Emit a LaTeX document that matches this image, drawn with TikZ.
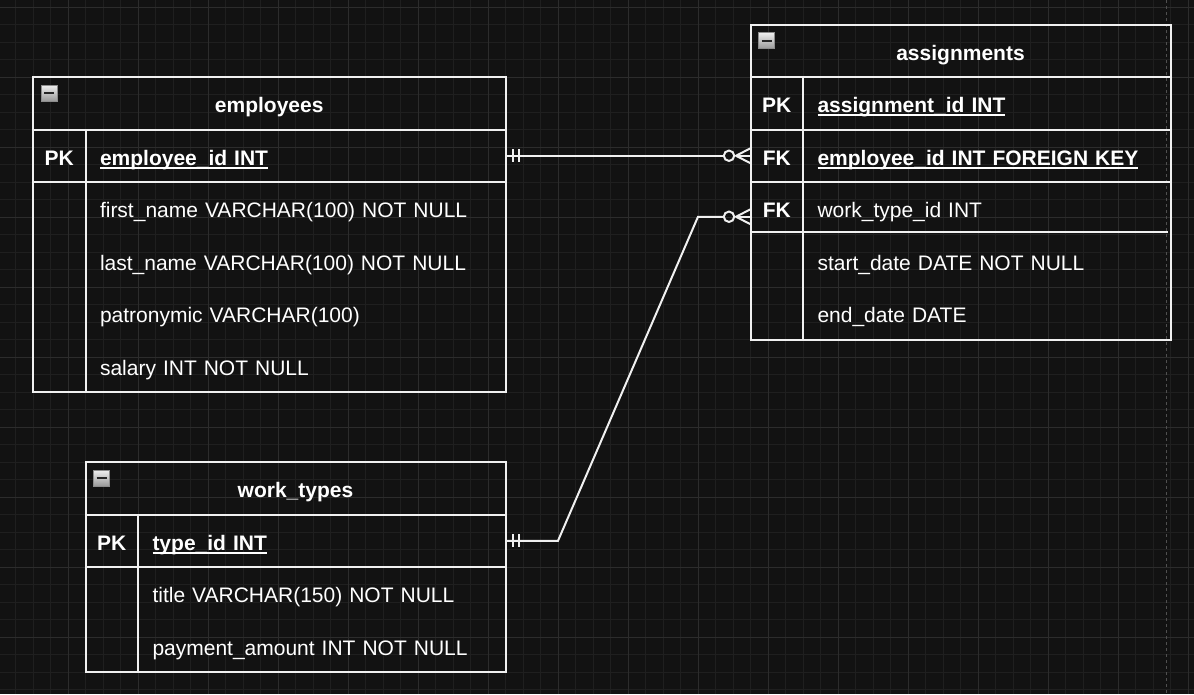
\documentclass[tikz,border=0pt]{standalone}
\usepackage{fontspec}
\setmainfont{Liberation Sans}
\usetikzlibrary{calc}
\definecolor{bgcol}{HTML}{121212}
\definecolor{gridminor}{HTML}{1F1F1F}
\definecolor{gridmajor}{HTML}{2C2C2C}
\definecolor{linecol}{HTML}{F0F0F0}
\definecolor{pagecol}{HTML}{505050}
\def\ukey#1{\setbox0\hbox{\bfseries #1}\rlap{\rule[-3.5pt]{\wd0}{2pt}}\box0}
\def\minusbox(#1){\draw[draw=black!45, top color=black!6, bottom color=black!40] ($(#1)+(8,8)$) rectangle ++(16,16); \draw[line width=2, black!85] ($(#1)+(11,16)$) -- ++(10,0);}
\tikzset{
	erline/.style={draw=linecol, line width=2},
	ertext/.style={text=white, font=\fontsize{21}{25}\selectfont, text height=24, text depth=5.5, outer sep=0, minimum height=52.5},
	tblhead/.style={ertext, erline, font=\fontsize{21}{25}\selectfont\bfseries, inner sep=0},
	keycell/.style={ertext, font=\fontsize{21}{25}\selectfont\bfseries, minimum width=52.5, inner sep=0},
	fieldcell/.style={ertext, anchor=west, align=left, inner xsep=14.5, inner ysep=0, text width=#1},
}
\begin{document}
\begin{tikzpicture}[x=1pt, y=-1pt]
			%%%%% START %%%%%
			
			\useasboundingbox (0, 0) rectangle (1194, 694);
			\fill[bgcol] (0, 0) rectangle (1194, 694);
			
			% grid
			\foreach \k in {0,...,69} \draw[gridminor, line width=1] ({-2+17.5*\k}, 0) -- ({-2+17.5*\k}, 694);
			\foreach \k in {0,...,39} \draw[gridminor, line width=1] (0, {7+17.5*\k}) -- (1194, {7+17.5*\k});
			\foreach \k in {0,...,17} \draw[gridmajor, line width=1] ({-2+70*\k}, 0) -- ({-2+70*\k}, 694);
			\foreach \k in {0,...,9} \draw[gridmajor, line width=1] (0, {7+70*\k}) -- (1194, {7+70*\k});
			\draw[pagecol, line width=1, dash pattern=on 3 off 3] (1166.7, 0) -- (1166.7, 694);
			
			% employees
			\node[tblhead, minimum width=472.5] (emp) at (269.25, 103.25) {employees};
			\node[keycell] (emp-pk-k) at (59.25, 155.75) {PK};
			\node[fieldcell=391] (emp-pk) at (85.5, 155.75) {\ukey{employee\_id INT}};
			\node[fieldcell=391] (emp-r1) at (85.5, 208.25) {first\_name VARCHAR(100) NOT NULL};
			\node[fieldcell=391] (emp-r2) at (85.5, 260.75) {last\_name VARCHAR(100) NOT NULL};
			\node[fieldcell=391] (emp-r3) at (85.5, 313.25) {patronymic VARCHAR(100)};
			\node[fieldcell=391] (emp-r4) at (85.5, 365.75) {salary INT NOT NULL};
			\draw[erline] (emp.north west) rectangle (emp-r4.south east);
			\draw[erline] (emp-pk.north west) -- (emp-r4.south west);
			\draw[erline] (emp-pk-k.south west) -- (emp-pk.south east);
			\minusbox(emp.north west);
			
			% assignments
			\node[tblhead, minimum width=420] (asg) at (960.5, 50.75) {assignments};
			\node[keycell] (asg-pk-k) at (776.75, 103.25) {PK};
			\node[fieldcell=338.5] (asg-pk) at (803, 103.25) {\ukey{assignment\_id INT}};
			\node[keycell] (asg-fk1-k) at (776.75, 155.75) {FK};
			\node[fieldcell=338.5] (asg-fk1) at (803, 155.75) {\ukey{employee\_id INT FOREIGN KEY}};
			\node[keycell] (asg-fk2-k) at (776.75, 208.25) {FK};
			\node[fieldcell=338.5] (asg-fk2) at (803, 208.25) {work\_type\_id INT};
			\node[fieldcell=338.5] (asg-r1) at (803, 260.75) {start\_date DATE NOT NULL};
			\node[fieldcell=338.5] (asg-r2) at (803, 313.25) {end\_date DATE};
			\draw[erline] (asg.north west) rectangle (asg-r2.south east);
			\draw[erline] (asg-pk.north west) -- (asg-r2.south west);
			\draw[erline] (asg-pk-k.south west) -- (asg-pk.south east);
			\draw[erline] (asg-fk1-k.south west) -- (asg-fk1.south east);
			\draw[erline] ($(asg-fk2-k.south west)+(0,-2.5)$) -- ($(asg-fk2.south east)+(-2.5,-2.5)$);
			\minusbox(asg.north west);
			
			% work_types
			\node[tblhead, minimum width=420] (wt) at (295.5, 488.25) {work\_types};
			\node[keycell] (wt-pk-k) at (111.75, 540.75) {PK};
			\node[fieldcell=338.5] (wt-pk) at (138, 540.75) {\ukey{type\_id INT}};
			\node[fieldcell=338.5] (wt-r1) at (138, 593.25) {title VARCHAR(150) NOT NULL};
			\node[fieldcell=338.5] (wt-r2) at (138, 645.75) {payment\_amount INT NOT NULL};
			\draw[erline] (wt.north west) rectangle (wt-r2.south east);
			\draw[erline] (wt-pk.north west) -- (wt-r2.south west);
			\draw[erline] (wt-pk-k.south west) -- (wt-pk.south east);
			\minusbox(wt.north west);
			
			% employees -> assignments
			\draw[erline] (emp-pk.east) -- ($(asg-fk1-k.west)+(-26.7,0)$);
			\draw[erline] ($(emp-pk.east)+(7.5,-6.5)$) -- ++(0,13);
			\draw[erline] ($(emp-pk.east)+(13.5,-6.5)$) -- ++(0,13);
			\draw[erline] ($(asg-fk1-k.west)+(-21.5,0)$) circle (5.2);
			\draw[erline] ($(asg-fk1-k.west)+(0,-7.5)$) -- ($(asg-fk1-k.west)+(-14.5,0)$) -- ($(asg-fk1-k.west)+(0,7.5)$);
			\draw[erline] ($(asg-fk1-k.west)+(-14.5,0)$) -- (asg-fk1-k.west);
			
			% work_types -> assignments
			\draw[erline] (wt-pk.east) -- ++(52.5,0) -- ($(asg-fk2-k.west)+(-52.5,8.5)$) -- ($(asg-fk2-k.west)+(-26.7,8.5)$);
			\draw[erline] ($(wt-pk.east)+(7.5,-6.5)$) -- ++(0,13);
			\draw[erline] ($(wt-pk.east)+(13.5,-6.5)$) -- ++(0,13);
			\draw[erline] ($(asg-fk2-k.west)+(-21.5,8.5)$) circle (5.2);
			\draw[erline] ($(asg-fk2-k.west)+(0,1)$) -- ($(asg-fk2-k.west)+(-14.5,8.5)$) -- ($(asg-fk2-k.west)+(0,16)$);
			\draw[erline] ($(asg-fk2-k.west)+(-14.5,8.5)$) -- ($(asg-fk2-k.west)+(0,8.5)$);
			
			%%%%% END %%%%%
\end{tikzpicture}
\end{document}
